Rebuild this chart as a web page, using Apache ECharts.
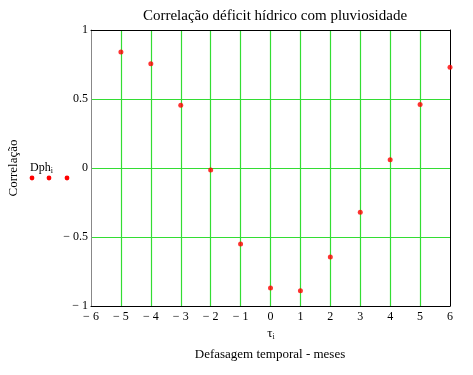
<!DOCTYPE html>
<html><head><meta charset="utf-8">
<script src="https://cdn.jsdelivr.net/npm/echarts@6/dist/echarts.min.js"></script>
<style>html,body{margin:0;padding:0;background:#fff}#c{width:473px;height:375px}</style>
</head><body><div id="c"></div>
<script>
const lags = [-5,-4,-3,-2,-1,0,1,2,3,4,5,6];
const corr = [0.84,0.755,0.455,-0.015,-0.55,-0.87,-0.89,-0.645,-0.32,0.06,0.46,0.73];
const titleText = 'Correlação déficit hídrico com pluviosidade';
const yName = 'Correlação';
const xName = 'Defasagem temporal - meses';

const font = '"Liberation Serif", "Times New Roman", serif';
function fmt(v){ if (Math.abs(v) < 1e-9) return '0'; return v < 0 ? '\u2212 ' + String(-v) : String(v); }
const green = { color: '#33dd33', width: 1.2 };

const chart = echarts.init(document.getElementById('c'));
chart.setOption({
  animation: false,
  backgroundColor: '#fff',
  title: { text: titleText, left: 270, top: 4, textAlign: 'center',
    textStyle: { fontFamily: font, fontSize: 15, fontWeight: 'normal', color: '#000' } },
  grid: { left: 91, top: 30, width: 359, height: 276 },
  xAxis: [{ type: 'value', min: -6, max: 6, interval: 1,
    axisLine: { show: true, onZero: false, lineStyle: { color: '#000' } },
    axisTick: { show: false },
    axisLabel: { formatter: fmt, fontFamily: font, fontSize: 12, color: '#000', margin: 5 },
    splitLine: { show: true, showMinLine: false, showMaxLine: false, lineStyle: green } },
   { type: 'value', position: 'top', min: -6, max: 6, interval: 1,
    axisLine: { show: true, onZero: false, lineStyle: { color: '#000' } },
    axisTick: { show: false }, axisLabel: { show: false }, splitLine: { show: false } }],
  yAxis: [{ type: 'value', min: -1, max: 1, interval: 0.5,
    axisLine: { show: true, onZero: false, lineStyle: { color: '#888' } },
    axisTick: { show: false },
    axisLabel: { formatter: fmt, fontFamily: font, fontSize: 12, color: '#000', margin: 3 },
    splitLine: { show: true, showMinLine: false, showMaxLine: false, lineStyle: green } },
   { type: 'value', position: 'right', min: -1, max: 1, interval: 0.5,
    axisLine: { show: true, onZero: false, lineStyle: { color: '#000' } },
    axisTick: { show: false }, axisLabel: { show: false }, splitLine: { show: false } }],
  series: [{ type: 'scatter', xAxisIndex: 0, yAxisIndex: 0, data: lags.map((x,i)=>[x, corr[i]]), symbol: 'circle', symbolSize: 5,
    itemStyle: { color: '#ff0000' } }],
  graphic: [
    { type: 'text', x: 14, y: 168, rotation: Math.PI/2, style: { text: yName, font: '13px ' + font, fill: '#000', align: 'center', verticalAlign: 'middle' } },
    { type: 'text', x: 30, y: 161, style: { text: '{a|Dph}{b|i}', rich: { a: { fontFamily: font, fontSize: 12, fill: '#000' }, b: { fontFamily: font, fontSize: 8, fill: '#000', padding: [6,0,0,0] } }, verticalAlign: 'top' } },
    { type: 'circle', shape: { cx: 32, cy: 178, r: 2.4 }, style: { fill: '#ff0000' } },
    { type: 'circle', shape: { cx: 49, cy: 178, r: 2.4 }, style: { fill: '#ff0000' } },
    { type: 'circle', shape: { cx: 67, cy: 178, r: 2.4 }, style: { fill: '#ff0000' } },
    { type: 'text', x: 271, y: 334, style: { text: '{a|\u03c4}{b|i}', rich: { a: { fontFamily: font, fontSize: 13, fill: '#000' }, b: { fontFamily: font, fontSize: 8, fill: '#000', padding: [6,0,0,0] } }, align: 'center', verticalAlign: 'middle' } },
    { type: 'text', x: 270, y: 355, style: { text: xName, font: '13px ' + font, fill: '#000', align: 'center', verticalAlign: 'middle' } }
  ]
});
</script></body></html>
